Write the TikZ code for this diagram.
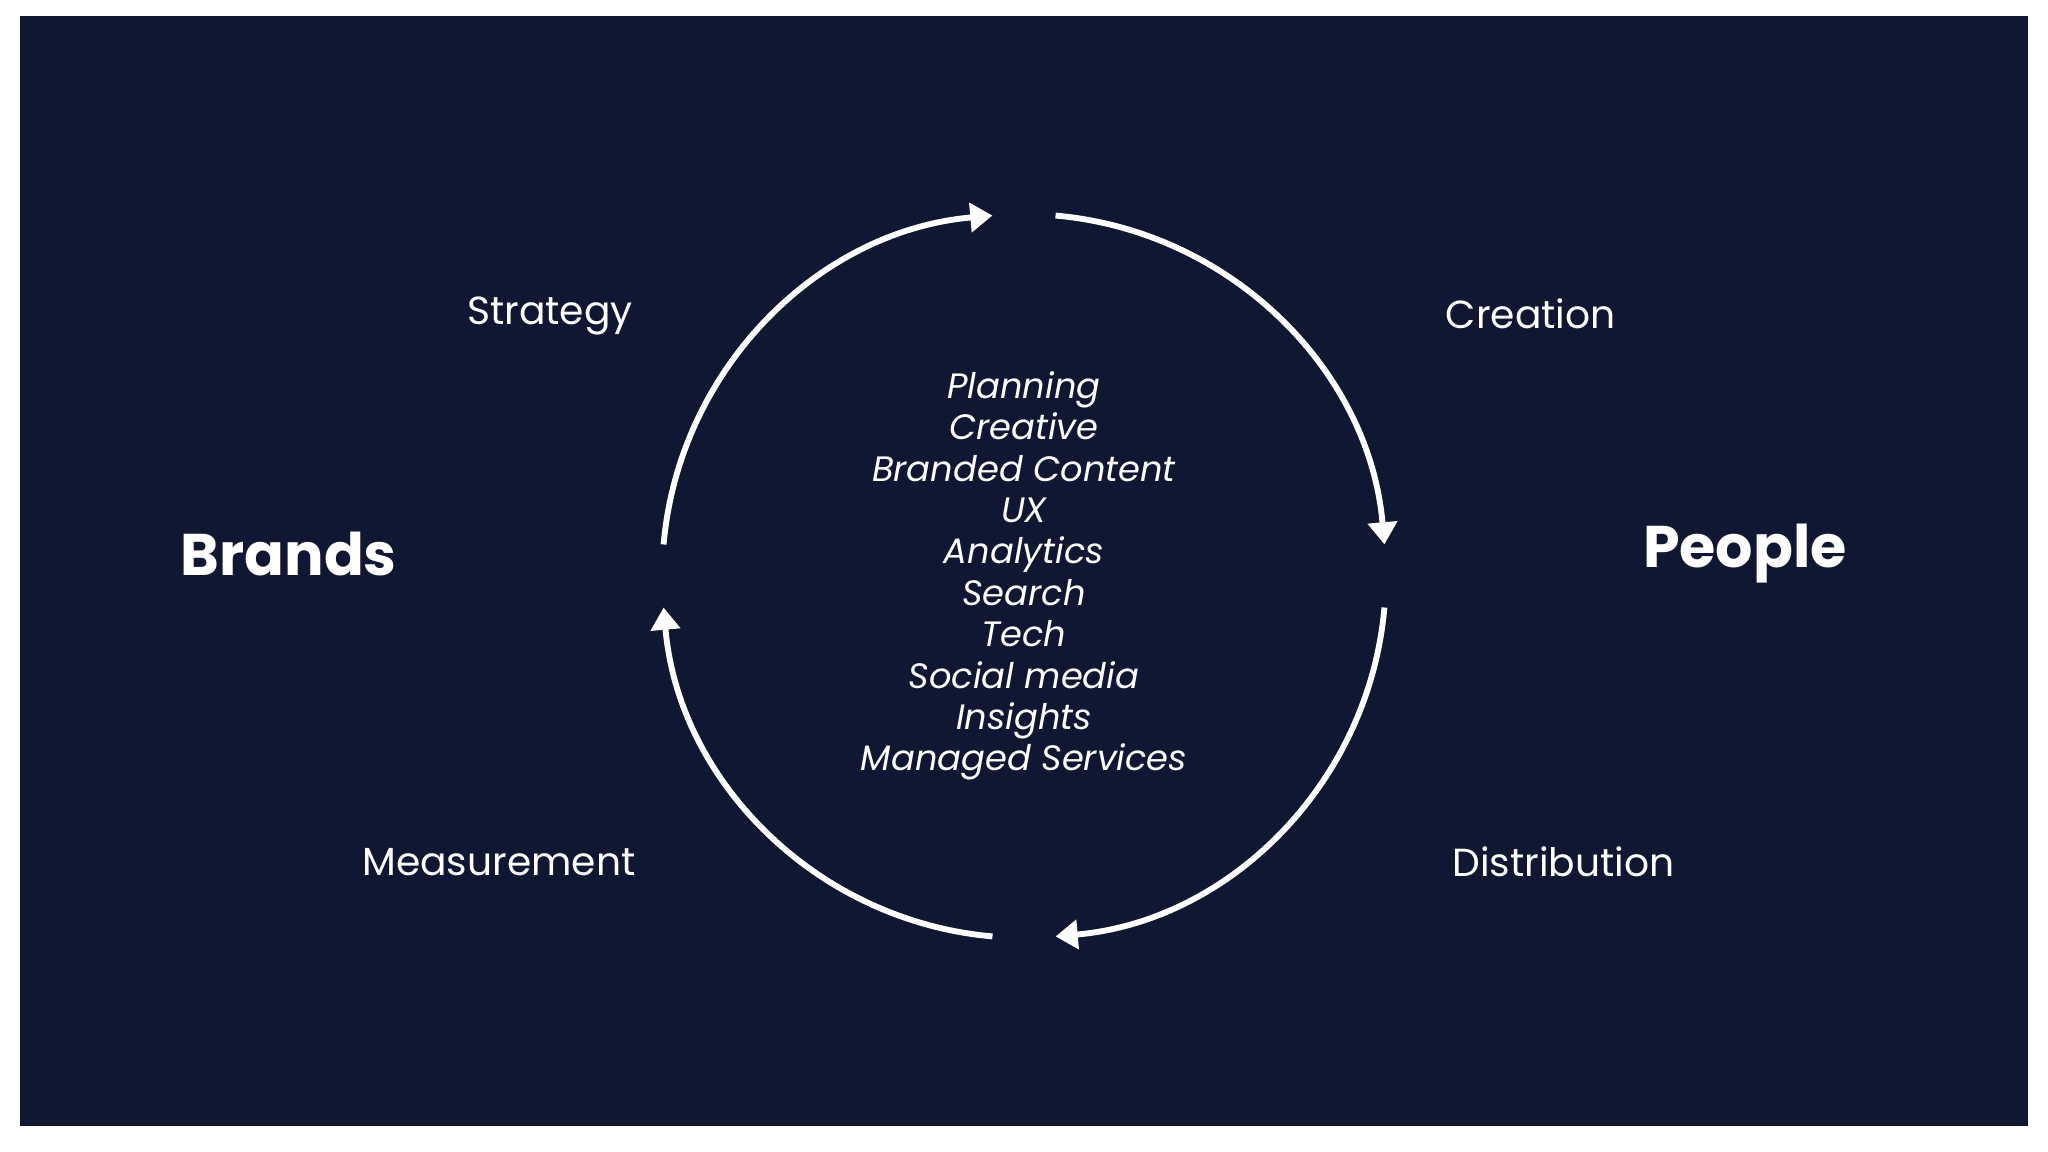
\documentclass[tikz,border=0pt]{standalone}
\usepackage{fontspec}
\setmainfont{Poppins}
\usetikzlibrary{arrows.meta}
\definecolor{navy}{HTML}{0F1733}
\begin{document}
\begin{tikzpicture}[x=1pt,y=1pt,
  arc/.style={draw=white,line width=4.5pt,-{Triangle[length=17pt,width=22pt]}},
  lbl/.style={text=white,font=\fontsize{30}{34}\selectfont},
  big/.style={text=white,font=\fontsize{45}{50}\selectfont\bfseries}]
\useasboundingbox (0,0) rectangle (1568,882);
\fill[navy] (15,20) rectangle (1553,870);
\coordinate (c) at (784,441);
\draw[arc] ([shift={(175:277)}]c) arc[start angle=175,end angle=95,radius=277];
\draw[arc] ([shift={(85:277)}]c) arc[start angle=85,end angle=5,radius=277];
\draw[arc] ([shift={(-5:277)}]c) arc[start angle=-5,end angle=-85,radius=277];
\draw[arc] ([shift={(-95:277)}]c) arc[start angle=-95,end angle=-175,radius=277];
\node[lbl] (s) at (421,640) {Strategy};
\node[lbl] (cr) at (1172,642) {Creation};
\node[lbl] (m) at (382,222) {Measurement};
\node[lbl] (d) at (1197,222) {Distribution};
\node[big] (b) at (221,458) {Brands};
\node[big] (p) at (1336,458) {People};
\node[text=white,align=center,font=\fontsize{27}{31.7}\selectfont\itshape] (l) at (784,441)
{Planning\\Creative\\Branded Content\\UX\\Analytics\\Search\\Tech\\Social media\\Insights\\Managed Services};
\end{tikzpicture}
\end{document}
